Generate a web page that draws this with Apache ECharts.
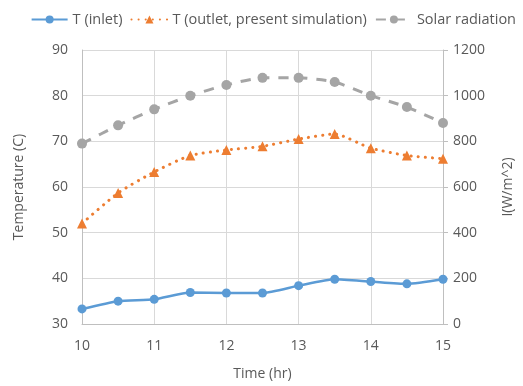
<!DOCTYPE html>
<html>
<head>
<meta charset="utf-8">
<script src="https://cdn.jsdelivr.net/npm/echarts@6/dist/echarts.min.js"></script>
<style>
  html, body { margin: 0; padding: 0; background: #fff; }
  #main { width: 523px; height: 386px; }
</style>
</head>
<body>
<div id="main"></div>
<script>
// time of day (hr)
var times = [10, 10.5, 11, 11.5, 12, 12.5, 13, 13.5, 14, 14.5, 15];
// inlet temperature (C)
var tInlet = [33.3, 35.0, 35.4, 36.9, 36.8, 36.8, 38.4, 39.8, 39.3, 38.8, 39.8];
// outlet temperature, present simulation (C)
var tOutlet = [52.0, 58.7, 63.3, 66.9, 68.1, 68.9, 70.5, 71.6, 68.5, 66.9, 66.2];
// solar radiation (W/m^2)
var solar = [790, 870, 940, 1000, 1047, 1078, 1078, 1060, 1000, 950, 880];

var xTicks = [10, 11, 12, 13, 14, 15];
var leftTicks = [30, 40, 50, 60, 70, 80, 90];
var rightTicks = [0, 200, 400, 600, 800, 1000, 1200];

function pairs(xs, ys) {
  var out = [];
  for (var i = 0; i < xs.length; i++) out.push([xs[i], ys[i]]);
  return out;
}

var myChart = echarts.init(document.getElementById('main'));
var textColor = '#595959';
var font = 'Open Sans';

var option = {
  animation: false,
  textStyle: { fontFamily: font },
  legend: {
    top: 7,
    right: 2,
    itemWidth: 36,
    itemHeight: 10,
    itemGap: 8,
    textStyle: { color: textColor, fontSize: 14.5, fontFamily: font },
    data: ['T (inlet)', 'T (outlet, present simulation)', 'Solar radiation']
  },
  grid: { left: 82, right: 71, top: 50, bottom: 61 },
  xAxis: {
    type: 'value',
    min: xTicks[0],
    max: xTicks[xTicks.length - 1],
    interval: 1,
    name: 'Time (hr)',
    nameLocation: 'middle',
    nameGap: 43,
    nameMoveOverlap: false,
    nameTextStyle: { color: textColor, fontSize: 14 },
    axisLine: { lineStyle: { color: '#bfbfbf' } },
    axisTick: { show: false },
    axisLabel: { color: textColor, fontSize: 14, margin: 15 },
    splitLine: { show: true, lineStyle: { color: '#d9d9d9' } }
  },
  yAxis: [{
    type: 'value',
    min: leftTicks[0],
    max: leftTicks[leftTicks.length - 1],
    interval: 10,
    name: 'Temperature (C)',
    nameLocation: 'middle',
    nameGap: 56,
    nameTextStyle: { color: textColor, fontSize: 14 },
    axisLine: { show: true, lineStyle: { color: '#bfbfbf' } },
    axisTick: { show: false },
    axisLabel: { color: textColor, fontSize: 14, margin: 14 },
    splitLine: { show: true, lineStyle: { color: '#d9d9d9' } }
  }, {
    type: 'value',
    min: rightTicks[0],
    max: rightTicks[rightTicks.length - 1],
    interval: 200,
    name: 'I(W/m^2)',
    nameLocation: 'middle',
    nameGap: 58,
    nameTextStyle: { color: textColor, fontSize: 14 },
    axisLine: { show: true, lineStyle: { color: '#bfbfbf' } },
    axisTick: { show: true, length: 5, lineStyle: { color: '#bfbfbf' } },
    axisLabel: { color: textColor, fontSize: 14, margin: 10, formatter: function (v) { return String(v); } },
    splitLine: { show: false }
  }],
  series: [{
    name: 'T (inlet)',
    type: 'line',
    yAxisIndex: 0,
    data: pairs(times, tInlet),
    smooth: 0.2,
    symbol: 'circle',
    symbolSize: 9,
    itemStyle: { color: '#5b9bd5' },
    lineStyle: { color: '#5b9bd5', width: 2.5 }
  }, {
    name: 'T (outlet, present simulation)',
    type: 'line',
    yAxisIndex: 0,
    data: pairs(times, tOutlet),
    smooth: 0.2,
    symbol: 'triangle',
    symbolSize: 10,
    itemStyle: { color: '#ed7d31' },
    lineStyle: { color: '#ed7d31', width: 3, type: [0.1, 7], cap: 'round' }
  }, {
    name: 'Solar radiation',
    type: 'line',
    yAxisIndex: 1,
    data: pairs(times, solar),
    smooth: 0.2,
    symbol: 'circle',
    symbolSize: 10,
    itemStyle: { color: '#a5a5a5' },
    lineStyle: { color: '#a5a5a5', width: 3, type: [10, 9] }
  }]
};
myChart.setOption(option);
</script>
</body>
</html>
